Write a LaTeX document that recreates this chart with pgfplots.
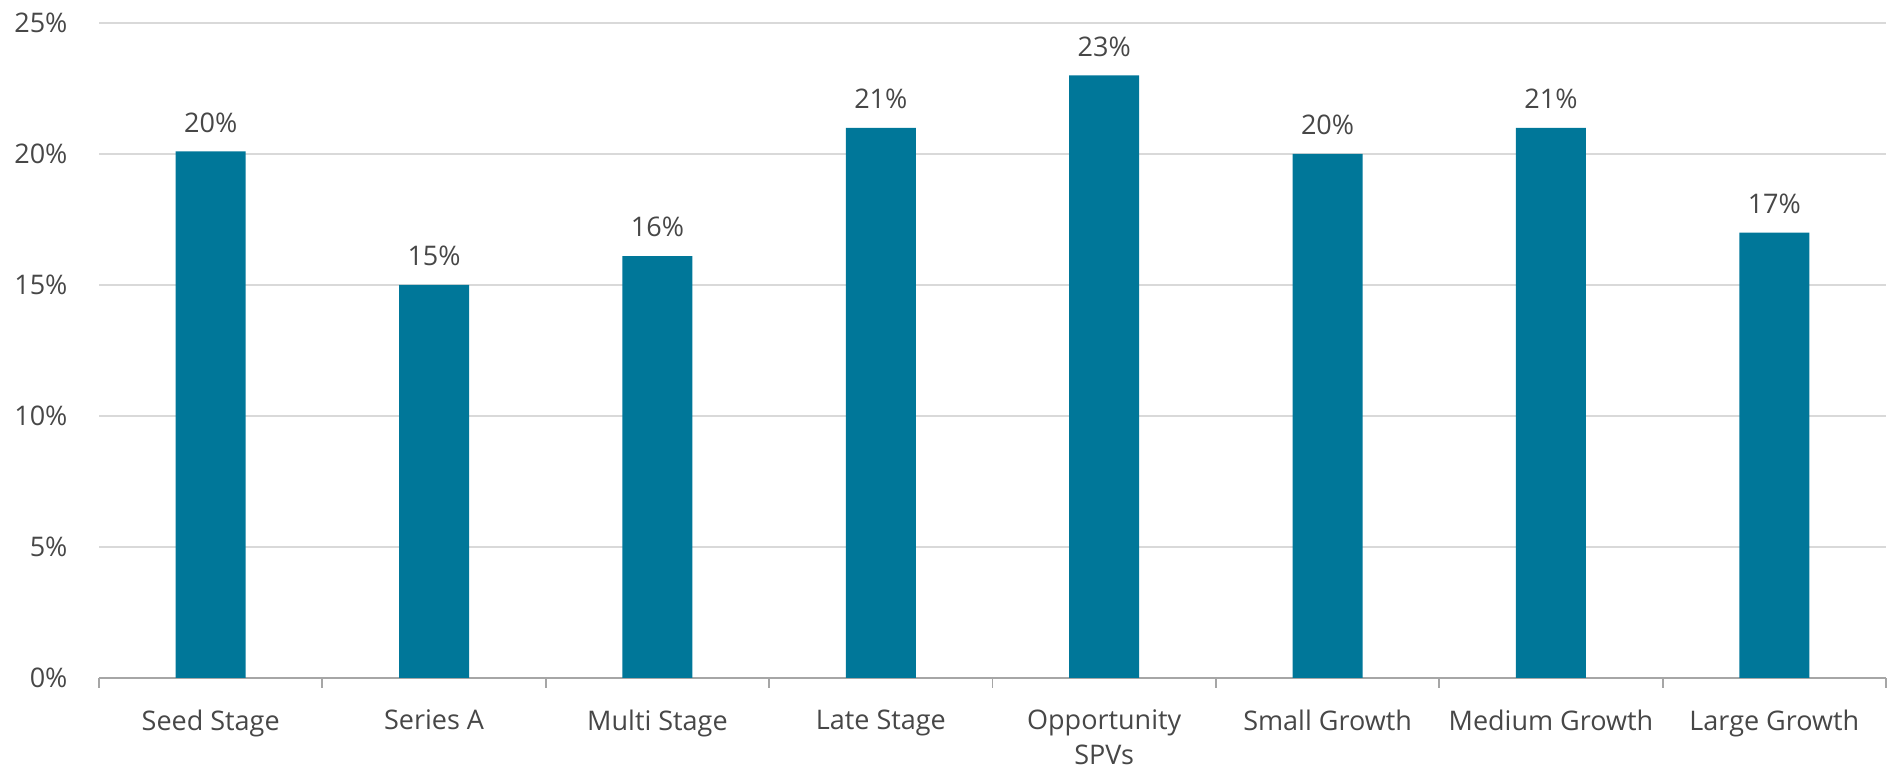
\documentclass[border=0pt]{standalone}
\usepackage{fontspec}
\setmainfont{Open Sans}
\usepackage{pgfplots}
\pgfplotsset{compat=1.18}
\definecolor{barc}{HTML}{007799}
\definecolor{txt}{HTML}{474747}
\definecolor{gridc}{HTML}{D9D9D9}
\definecolor{axc}{HTML}{A6A6A6}
\begin{document}
\begin{tikzpicture}[font=\fontsize{13.5bp}{17.5bp}\selectfont]
\begin{axis}[
  scale only axis,
  width=893.5bp, height=327.5bp,
  xmin=-0.5, xmax=7.5,
  ymin=0, ymax=25,
  ytick={0,5,10,15,20,25},
  yticklabel={\pgfmathprintnumber{\tick}\%},
  /pgf/number format/assume math mode=true,
  xtick={0,1,2,3,4,5,6,7},
  xticklabels={Seed Stage,Series A,Multi Stage,Late Stage,{Opportunity\\SPVs},Small Growth,Medium Growth,Large Growth},
  x tick label style={align=center, text=txt, yshift=-8bp},
  y tick label style={text=txt, xshift=-8bp},
  minor xtick={-0.5,0.5,...,7.5},
  major x tick style={draw=none},
  minor x tick style={draw=axc, line width=0.9bp},
  minor tick length=5bp,
  tick align=outside,
  ymajorgrids,
  grid style={draw=gridc, line width=1bp},
  major y tick style={draw=none},
  axis x line*=bottom,
  axis y line*=left,
  y axis line style={draw=none},
  x axis line style={draw=axc, line width=0.9bp, -},
  clip=false,
  ybar, bar width=35bp,
  nodes near coords={\pgfmathprintnumber[fixed,precision=0]{\pgfplotspointmeta}\%},
  every node near coord/.append style={text=txt, yshift=6bp},
]
\addplot[fill=barc, draw=none] coordinates {(0,20.1) (1,15) (2,16.1) (3,21) (4,23) (5,20) (6,21) (7,17)};
\end{axis}
\path ([shift={(-49.5bp,-46.5bp)}]current axis.south west) rectangle ([shift={(2bp,11.5bp)}]current axis.north east);
\end{tikzpicture}
\end{document}
